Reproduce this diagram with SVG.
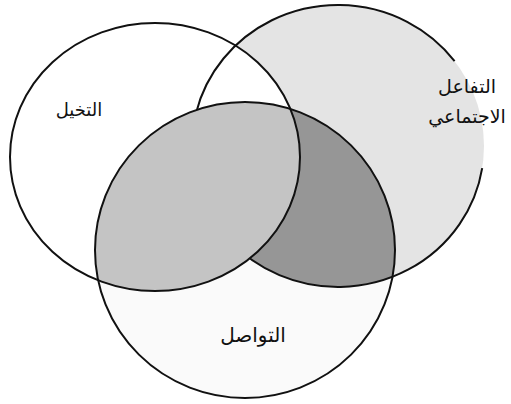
<svg xmlns="http://www.w3.org/2000/svg" width="511" height="404" viewBox="0 0 511 404">
<style>
.ln{fill:none;stroke:#111;stroke-width:2}
.lbl{font-family:"DejaVu Sans",sans-serif;font-size:20px;fill:#111;text-anchor:middle}
</style>
<defs>
<clipPath id="clipL"><ellipse cx="155" cy="157" rx="145" ry="134"/></clipPath>
<clipPath id="clipR"><ellipse cx="338" cy="146" rx="146" ry="141"/></clipPath>
<mask id="hideBL" maskUnits="userSpaceOnUse" x="0" y="0" width="511" height="404">
<rect x="0" y="0" width="511" height="404" fill="#fff"/>
<ellipse cx="245" cy="250" rx="150" ry="148" fill="#000" clip-path="url(#clipL)"/>
</mask>
</defs>
<rect x="0" y="0" width="511" height="404" fill="#fff"/>
<g id="regions">
<ellipse cx="338" cy="146" rx="146" ry="141" fill="#e4e4e4"/>
<ellipse cx="155" cy="157" rx="145" ry="134" fill="#fff"/>
<ellipse cx="245" cy="250" rx="150" ry="148" fill="#fafafa"/>
<ellipse cx="245" cy="250" rx="150" ry="148" fill="#969696" clip-path="url(#clipR)"/>
<ellipse cx="245" cy="250" rx="150" ry="148" fill="#c4c4c4" clip-path="url(#clipL)"/>
</g>
<g id="imagination">
<ellipse class="ln" cx="155" cy="157" rx="145" ry="134"/>
<text class="lbl" x="79" y="116" style="font-size:18px">التخيل</text>
</g>
<g id="communication">
<ellipse class="ln" cx="245" cy="250" rx="150" ry="148"/>
<text class="lbl" x="253" y="342">التواصل</text>
</g>
<g id="social">
<path class="ln" mask="url(#hideBL)" d="M482.2,168.1 A146,141 0 1 1 454.6,61.1"/>
<text class="lbl" x="467" y="93" style="font-size:19px">التفاعل</text>
<text class="lbl" x="467" y="123" style="font-size:19px">الاجتماعي</text>
</g>
</svg>
